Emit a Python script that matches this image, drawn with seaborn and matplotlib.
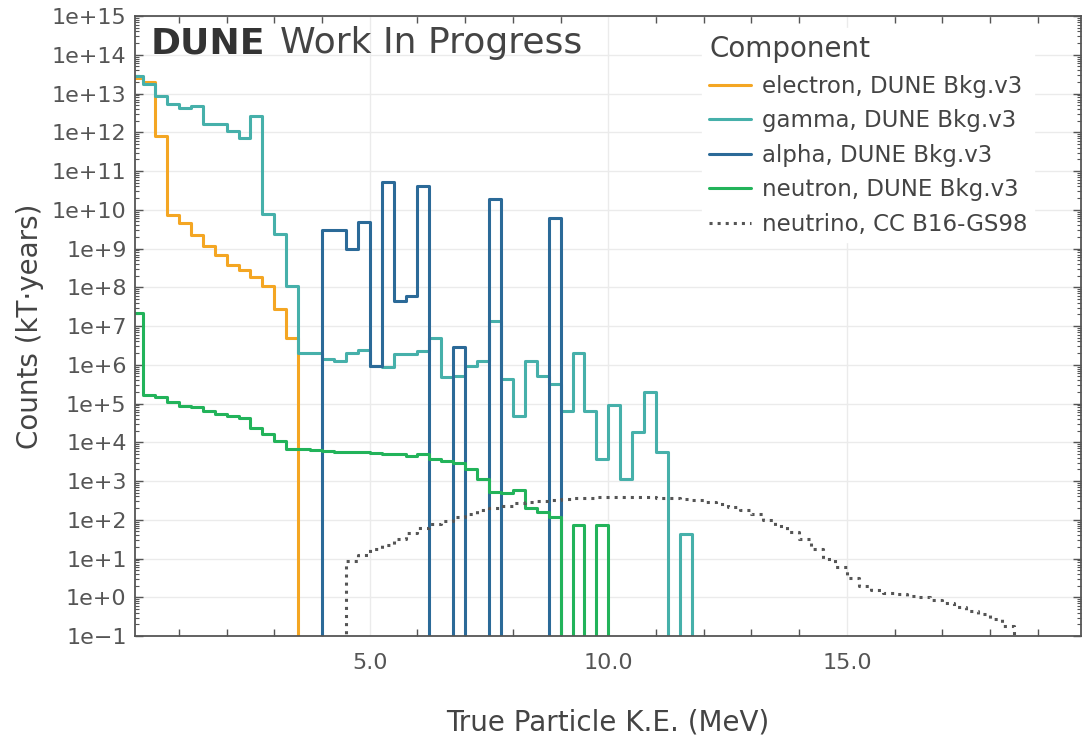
import numpy as np
import pandas as pd
import matplotlib
matplotlib.use("Agg")
import matplotlib.pyplot as plt
import seaborn as sns
from matplotlib.ticker import FixedLocator, LogLocator, FuncFormatter, NullFormatter

# energy binning (MeV)
BIN_WIDTH = 0.25
E_MAX = 20.0

# log10(counts) per 0.25 MeV bin; None = empty bin
electron_start = 0.0
electron_log10 = [13.40, 13.29, 11.91, 9.86, 9.66, 9.35, 9.07, 8.83, 8.58, 8.45,
                  8.27, 8.02, 7.44, 6.68]

gamma_start = 0.0
gamma_log10 = [13.46, 13.25, 12.93, 12.73, 12.62, 12.67, 12.21, 12.21, 12.04, 11.84,
               12.43, 9.89, 9.37, 8.02, 6.30, 6.30, 6.15, 6.10, 6.30, 6.38,
               5.98, 5.93, 6.28, 6.28, 6.36, 6.68, 5.68, 5.72, 5.96, 6.10,
               7.14, 5.63, 4.68, 6.10, 5.72, 5.50, 4.80, 6.30, 4.80, 3.57,
               4.96, 3.05, 4.26, 5.30, 3.74, None, 1.63]

alpha_start = 4.0
alpha_log10 = [9.48, 9.48, 9.00, 9.68, 5.98, 10.71, 7.65, 7.78, 10.62, None,
               None, 6.47, None, None, 10.28, None, None, None, None, 9.78]

neutron_start = 0.0
neutron_log10 = [7.34, 5.23, 5.16, 5.03, 4.94, 4.90, 4.81, 4.73, 4.67, 4.62,
                 4.38, 4.21, 4.04, 3.83, 3.83, 3.80, 3.78, 3.74, 3.74, 3.76,
                 3.72, 3.70, 3.70, 3.65, 3.70, 3.57, 3.52, 3.46, 3.31, 3.05,
                 2.71, 2.68, 2.78, 2.30, 2.19, 2.06, None, 1.87, None, 1.87]

neutrino_start = 4.5
neutrino_log10 = [0.94, 1.10, 1.25, 1.35, 1.50, 1.65, 1.78, 1.88, 1.98, 2.06,
                  2.15, 2.25, 2.30, 2.36, 2.42, 2.45, 2.48, 2.51, 2.53, 2.55,
                  2.57, 2.58, 2.59, 2.59, 2.59, 2.58, 2.57, 2.56, 2.54, 2.50,
                  2.47, 2.41, 2.34, 2.25, 2.14, 2.00, 1.84, 1.68, 1.50, 1.25,
                  1.00, 0.78, 0.50, 0.30, 0.18, 0.12, 0.08, 0.04, 0.00, -0.06,
                  -0.14, -0.24, -0.35, -0.42, -0.55, -0.75, -1.10]

components = ["electron, DUNE Bkg.v3", "gamma, DUNE Bkg.v3", "alpha, DUNE Bkg.v3",
              "neutron, DUNE Bkg.v3", "neutrino, CC B16-GS98"]
starts = [electron_start, gamma_start, alpha_start, neutron_start, neutrino_start]
series = [electron_log10, gamma_log10, alpha_log10, neutron_log10, neutrino_log10]
colors = ["#f4a623", "#46b0aa", "#2b6a98", "#22b35a", "#555555"]
styles = ["-", "-", "-", "-", ":"]

edges = np.arange(0.0, E_MAX + BIN_WIDTH / 2, BIN_WIDTH)
centers = edges[:-1] + BIN_WIDTH / 2


def to_counts(start, log_vals):
    """pad a partial list of log10 counts onto the common binning"""
    counts = np.zeros(len(centers))
    i0 = int(round(start / BIN_WIDTH))
    for i, v in enumerate(log_vals):
        if v is not None:
            counts[i0 + i] = 10.0 ** v
    return counts


sns.set_theme(style="white")
plt.rcParams['font.family'] = ['DejaVu Sans']
text_color = "#444444"

fig = plt.figure(figsize=(10.88, 7.38), dpi=100)
ax = fig.add_axes([0.1241, 0.1382, 0.8692, 0.8401])

for name, start, vals, col, ls in zip(components, starts, series, colors, styles):
    df = pd.DataFrame({"energy": centers, "counts": to_counts(start, vals)})
    sns.histplot(data=df, x="energy", weights="counts", bins=list(edges),
                 element="step", fill=False, color=col, linestyle=ls,
                 linewidth=2.2, label=name, ax=ax)

ax.set_yscale("log")
ax.set_xlim(0.08, 19.9)
ax.set_ylim(1e-1, 1e15)

# ticks: decades labelled, minor ticks inside on every side
ax.yaxis.set_major_locator(FixedLocator(10.0 ** np.arange(-1, 16)))
ax.yaxis.set_minor_locator(LogLocator(base=10, subs=np.arange(2, 10), numticks=100))
ax.yaxis.set_minor_formatter(NullFormatter())
ax.yaxis.set_major_formatter(FuncFormatter(
    lambda v, p: f"1e{int(round(np.log10(v))):+d}".replace("-", "\u2212")))
ax.xaxis.set_major_locator(FixedLocator([5, 10, 15]))
ax.xaxis.set_minor_locator(FixedLocator([1, 2, 3, 4, 6, 7, 8, 9, 11, 12, 13, 14, 16, 17, 18, 19]))
ax.xaxis.set_major_formatter(FuncFormatter(lambda v, p: f"{v:.1f}"))

ax.tick_params(axis="both", which="both", direction="in", top=True, right=True,
               bottom=True, left=True, colors="#555555", labelcolor="#555555")
ax.tick_params(axis="x", which="major", length=0, labelsize=16, pad=12)
ax.tick_params(axis="x", which="minor", length=5, width=1)
ax.tick_params(axis="y", which="major", length=6, width=1, labelsize=16, pad=6)
ax.tick_params(axis="y", which="minor", length=3, width=0.8)

ax.grid(True, which="major", color="#ebebeb", linewidth=1)
ax.set_axisbelow(True)
for sp in ax.spines.values():
    sp.set_color("#555555")
    sp.set_linewidth(1.3)

ax.set_xlabel("True Particle K.E. (MeV)", fontsize=20, color=text_color, labelpad=26)
ax.set_ylabel("Counts (kT\u00b7years)", fontsize=20, color=text_color, labelpad=6)

# DUNE Work In Progress tag
tag = ax.text(0.016, 0.94, "DUNE", transform=ax.transAxes, fontsize=26,
              fontweight="bold", color="#333333", va="baseline", ha="left")
ax.annotate("Work In Progress", xy=(1, 0), xycoords=tag, xytext=(11, 0),
            textcoords="offset points", fontsize=26, color=text_color,
            va="bottom", ha="left")

leg = ax.legend(title="Component", loc="upper right", bbox_to_anchor=(0.951, 0.98),
                borderaxespad=0, fontsize=16.5, title_fontsize=20, alignment="left",
                handlelength=1.8, handletextpad=0.5, labelspacing=0.5,
                frameon=True, facecolor="white", edgecolor="white", framealpha=1,
                fancybox=False, borderpad=0.3)
for t in leg.get_texts():
    t.set_color(text_color)
leg.get_title().set_color(text_color)

fig.savefig("out.png", dpi=100)
